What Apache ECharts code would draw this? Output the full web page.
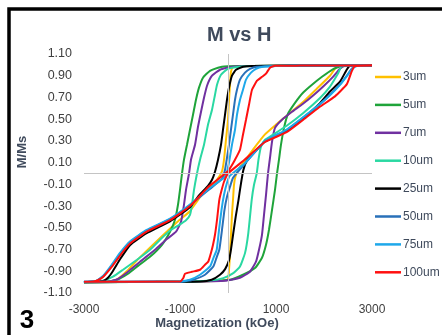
<!DOCTYPE html>
<html>
<head>
<meta charset="utf-8">
<script src="https://cdn.jsdelivr.net/npm/echarts@6/dist/echarts.min.js"></script>
<style>
  html, body { margin: 0; padding: 0; background: #fff; }
  #chart { width: 442px; height: 335px; }
</style>
</head>
<body>
<div id="chart"></div>
<script>
// [H (Oe), M/Ms]; "down" = field decreasing, "up" = field increasing
const down3um = [[3000,0.995],[1500,0.993],[500,0.99],[104,0.983],[62,0.937],[42,0.817],[21,0.679],[0,0.495],[-42,0.311],[-83,0.127],[-125,0.02],[-250,-0.07],[-375,-0.12],[-550,-0.2],[-800,-0.35],[-1070,-0.45],[-1480,-0.62],[-1830,-0.77],[-2110,-0.9],[-2320,-0.978],[-2550,-0.997],[-3000,-1]];
const up3um = [[-3000,-1],[-1500,-0.997],[-500,-0.992],[-100,-0.985],[0,-0.97],[21,-0.886],[42,-0.748],[62,-0.564],[83,-0.38],[104,-0.242],[125,-0.104],[160,-0.02],[250,0.06],[375,0.13],[520,0.22],[770,0.36],[1000,0.45],[1220,0.53],[1570,0.66],[1850,0.78],[2125,0.9],[2250,0.975],[2350,0.992],[3000,0.995]];

const down5um = [[3000,0.995],[1500,0.993],[500,0.99],[0,0.987],[-125,0.983],[-375,0.945],[-521,0.882],[-604,0.79],[-667,0.679],[-729,0.541],[-792,0.403],[-854,0.265],[-917,0.127],[-958,0],[-1000,-0.15],[-1042,-0.288],[-1104,-0.426],[-1208,-0.536],[-1375,-0.656],[-1625,-0.767],[-1875,-0.85],[-2083,-0.923],[-2312,-0.978],[-2562,-0.997],[-3000,-1]];
const up5um = [[-3000,-1],[-1000,-0.997],[42,-0.978],[312,-0.932],[562,-0.87],[708,-0.776],[792,-0.656],[854,-0.518],[917,-0.334],[979,-0.15],[1021,0],[1062,0.127],[1104,0.265],[1167,0.42],[1250,0.55],[1396,0.65],[1562,0.743],[1750,0.817],[1958,0.89],[2167,0.955],[2375,0.992],[3000,0.995]];

const down7um = [[3000,0.995],[1500,0.993],[500,0.99],[83,0.983],[-167,0.955],[-333,0.9],[-437,0.808],[-500,0.697],[-562,0.569],[-625,0.43],[-687,0.265],[-771,0.127],[-812,0],[-875,-0.15],[-917,-0.288],[-979,-0.444],[-1083,-0.536],[-1292,-0.61],[-1521,-0.702],[-1833,-0.812],[-2083,-0.904],[-2292,-0.969],[-2500,-0.997],[-3000,-1]];
const up7um = [[-3000,-1],[-1500,-0.997],[-800,-0.995],[-62,-0.987],[250,-0.96],[458,-0.904],[583,-0.812],[646,-0.702],[708,-0.564],[750,-0.38],[792,-0.196],[833,0],[875,0.145],[917,0.292],[979,0.42],[1125,0.495],[1333,0.568],[1562,0.642],[1792,0.725],[2000,0.808],[2187,0.89],[2333,0.964],[2437,0.992],[3000,0.995]];

const down10um = [[3000,0.995],[1500,0.993],[500,0.99],[250,0.983],[0,0.964],[-146,0.909],[-229,0.817],[-271,0.725],[-333,0.587],[-417,0.449],[-500,0.265],[-583,0.127],[-646,0],[-708,-0.15],[-750,-0.288],[-792,-0.38],[-875,-0.43],[-1042,-0.48],[-1208,-0.525],[-1417,-0.61],[-1625,-0.702],[-1896,-0.794],[-2187,-0.886],[-2396,-0.95],[-2604,-0.987],[-3000,-1]];
const up10um = [[-3000,-1],[-1000,-0.997],[-375,-0.985],[-98,-0.963],[110,-0.917],[250,-0.856],[354,-0.733],[423,-0.548],[494,-0.242],[542,-0.104],[598,0],[635,0.127],[687,0.246],[771,0.311],[875,0.34],[1223,0.44],[1569,0.557],[1917,0.695],[2125,0.8],[2298,0.925],[2369,0.986],[3000,0.995]];

const down25um = [[3000,0.995],[1500,0.993],[500,0.99],[312,0.983],[167,0.955],[83,0.9],[21,0.79],[-21,0.679],[-62,0.541],[-104,0.403],[-146,0.265],[-208,0.127],[-271,0.016],[-333,-0.058],[-417,-0.113],[-600,-0.2],[-792,-0.31],[-1208,-0.44],[-1694,-0.55],[-2042,-0.66],[-2250,-0.79],[-2400,-0.9],[-2500,-0.96],[-2600,-0.99],[-3000,-1]];
const up25um = [[-3000,-1],[-1500,-0.997],[-583,-0.994],[-340,-0.978],[-167,-0.932],[-60,-0.88],[20,-0.8],[62,-0.7],[110,-0.55],[160,-0.4],[219,-0.242],[260,-0.12],[319,0.03],[396,0.12],[600,0.22],[771,0.295],[1222,0.39],[1569,0.51],[1900,0.64],[2125,0.755],[2333,0.845],[2473,0.955],[2542,0.992],[3000,0.995]];

const down50um = [[3000,0.995],[1500,0.993],[1000,0.99],[604,0.983],[458,0.964],[354,0.928],[250,0.864],[187,0.771],[146,0.679],[104,0.541],[62,0.403],[21,0.265],[-21,0.145],[-62,0.035],[-125,-0.048],[-400,-0.15],[-792,-0.29],[-1208,-0.42],[-1694,-0.525],[-2042,-0.63],[-2250,-0.74],[-2423,-0.85],[-2598,-0.945],[-2750,-0.99],[-3000,-0.997]];
const up50um = [[-3000,-0.997],[-1000,-0.997],[-931,-0.994],[-723,-0.978],[-479,-0.932],[-306,-0.856],[-240,-0.776],[-181,-0.702],[-125,-0.518],[-73,-0.334],[-21,-0.214],[42,-0.122],[104,-0.04],[350,0.09],[771,0.295],[1222,0.4],[1569,0.515],[1900,0.63],[2125,0.725],[2333,0.82],[2473,0.9],[2580,0.965],[2650,0.99],[3000,0.995]];

const down75um = [[3000,0.995],[1500,0.993],[1000,0.99],[729,0.983],[583,0.964],[479,0.928],[375,0.864],[312,0.771],[250,0.679],[187,0.541],[146,0.403],[83,0.265],[31,0.127],[-21,0.016],[-83,-0.04],[-400,-0.14],[-792,-0.285],[-1208,-0.415],[-1694,-0.52],[-2042,-0.625],[-2250,-0.73],[-2423,-0.84],[-2598,-0.94],[-2750,-0.99],[-3000,-0.997]];
const up75um = [[-3000,-1],[-1100,-0.997],[-1000,-0.994],[-792,-0.978],[-583,-0.932],[-375,-0.856],[-302,-0.776],[-235,-0.702],[-187,-0.518],[-135,-0.334],[-83,-0.196],[-21,-0.085],[42,-0.02],[350,0.095],[771,0.3],[1222,0.405],[1569,0.52],[1900,0.635],[2125,0.72],[2333,0.815],[2473,0.895],[2600,0.97],[2700,0.992],[3000,0.995]];

const down100um = [[3000,0.995],[1500,0.993],[979,0.992],[875,0.974],[792,0.919],[708,0.89],[604,0.854],[500,0.771],[437,0.633],[375,0.495],[312,0.357],[250,0.219],[146,0.127],[62,0.062],[0,0.02],[-400,-0.12],[-792,-0.3],[-1208,-0.43],[-1694,-0.535],[-2042,-0.645],[-2250,-0.755],[-2423,-0.86],[-2598,-0.95],[-2702,-0.98],[-2806,-0.994],[-3000,-0.997]];
const up100um = [[-3000,-0.997],[-1000,-0.995],[-931,-0.962],[-896,-0.923],[-750,-0.905],[-583,-0.886],[-479,-0.84],[-410,-0.81],[-354,-0.73],[-312,-0.656],[-271,-0.564],[-229,-0.426],[-181,-0.242],[-131,-0.15],[-83,-0.076],[0,0],[300,0.11],[771,0.29],[1222,0.38],[1569,0.495],[1900,0.61],[2229,0.71],[2473,0.82],[2577,0.94],[2646,0.99],[3000,0.995]];

const names = ["3um", "5um", "7um", "10um", "25um", "50um", "75um", "100um"];
const colors = ["#FFC000", "#1FA43A", "#7030A0", "#2AD8A2", "#000000", "#2970B9", "#1EA8EA", "#FF1010"];
const loops = [
    down3um.concat(up3um), down5um.concat(up5um), down7um.concat(up7um), down10um.concat(up10um),
    down25um.concat(up25um), down50um.concat(up50um), down75um.concat(up75um), down100um.concat(up100um)
];

const textColor = "#3F4A5C";

const series = [{
    // zero lines, under the curves
    type: "line",
    name: "zero",
    data: [],
    z: 1,
    markLine: {
        silent: true,
        symbol: ["none", "none"],
        label: {show: false},
        lineStyle: {color: "#c4c4c4", width: 1, type: "solid"},
        data: [{xAxis: 0}, {yAxis: 0}]
    }
}];
names.forEach((n, i) => {
    series.push({
        type: "line",
        name: n,
        data: loops[i],
        symbol: "none",
        smooth: 0.15,
        color: colors[i],
        lineStyle: {width: 2},
        z: 3
    });
});

const option = {
    animation: false,
    title: {
        text: "M vs H",
        left: 207,
        top: 25,
        padding: 0,
        textStyle: {fontFamily: "Liberation Sans", fontSize: 20, fontWeight: "bold", color: textColor}
    },
    legend: {
        data: names,
        orient: "vertical",
        left: 375,
        top: 70,
        padding: 0,
        icon: "rect",
        itemWidth: 26,
        itemHeight: 2.5,
        itemGap: 13.9,
        textStyle: {fontFamily: "Liberation Sans", fontSize: 12, lineHeight: 14, color: textColor, padding: [0, 0, 0, -3]}
    },
    grid: {left: 84, right: 70, top: 54, bottom: 42},
    xAxis: {
        type: "value",
        min: -3000,
        max: 3000,
        interval: 1000,
        axisLine: {show: false},
        axisTick: {show: false},
        splitLine: {show: false},
        axisLabel: {
            margin: 11,
            fontFamily: "Liberation Sans",
            fontSize: 12,
            color: "#404040",
            formatter: v => (Math.round(v / 1000) % 2 !== 0 ? String(v) : "")
        }
    },
    yAxis: {
        type: "value",
        min: -1.1,
        max: 1.1,
        interval: 0.1,
        axisLine: {show: false},
        axisTick: {show: false},
        splitLine: {show: false},
        axisLabel: {
            margin: 12,
            fontFamily: "Liberation Sans",
            fontSize: 12.5,
            color: "#404040",
            formatter: v => (Math.abs(Math.round(v * 10)) % 2 === 1 ? v.toFixed(2) : "")
        }
    },
    graphic: [
        {type: "rect", shape: {x: 9, y: 9, width: 470, height: 360}, style: {fill: "none", stroke: "#000", lineWidth: 3.5}, silent: true},
        {type: "text", x: 22, y: 152, rotation: Math.PI / 2,
         style: {text: "M/Ms", font: "bold 13px Liberation Sans", fill: textColor, align: "center", verticalAlign: "middle"}},
        {type: "text", x: 217, y: 323,
         style: {text: "Magnetization (kOe)", font: "bold 13px Liberation Sans", fill: textColor, align: "center", verticalAlign: "middle"}},
        {type: "text", x: 27, y: 321,
         style: {text: "3", font: "bold 26px Liberation Sans", fill: "#000", align: "center", verticalAlign: "middle"}}
    ],
    series: series
};

const myChart = echarts.init(document.getElementById("chart"), null, {renderer: "canvas"});
myChart.setOption(option);
</script>
</body>
</html>
